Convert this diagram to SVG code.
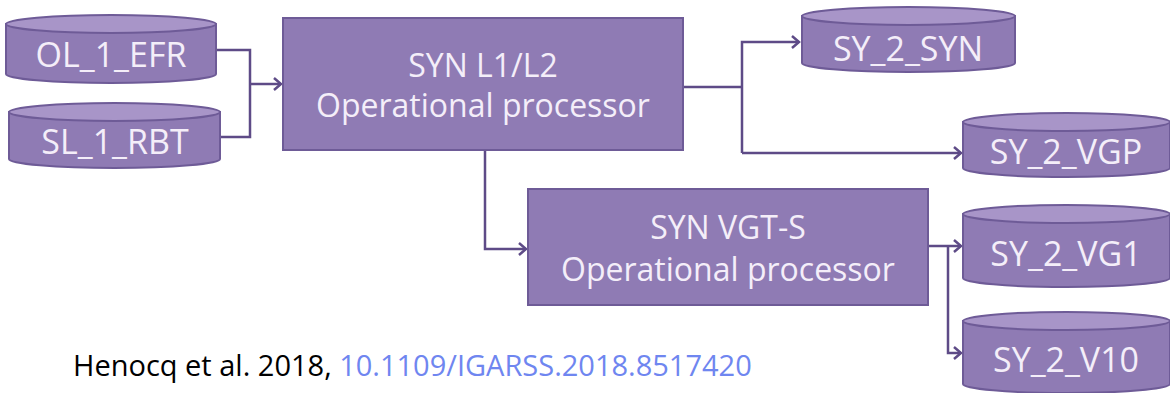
<svg xmlns="http://www.w3.org/2000/svg" width="1170" height="393" viewBox="0 0 1170 393">
<defs>
<style>
.box{fill:#8f7bb4;stroke:#6e5b97;stroke-width:2}
.cyl{fill:#8f7bb4;stroke:#6e5b97;stroke-width:2}
.top{fill:#a895c8;stroke:#6e5b97;stroke-width:2}
.lbl{font-family:"Open Sans","Noto Sans",sans-serif;fill:#f4eef9;text-anchor:middle}
.c{font-size:34px}
.b{font-size:32px}
.con{fill:none;stroke:#5e4b87;stroke-width:2.5}
.cap{font-family:"Open Sans","Noto Sans",sans-serif;font-size:29px}
</style>
<marker id="arr" markerUnits="userSpaceOnUse" markerWidth="12" markerHeight="14" refX="9" refY="7" orient="auto">
<path d="M2,1 L9,7 L2,13" fill="none" stroke="#5e4b87" stroke-width="2.5"/>
</marker>
</defs>
<rect width="1170" height="393" fill="#ffffff"/>
<g id="connectors">
<path class="con" d="M216,50 H250 V137 H220"/>
<path class="con" d="M250,84 H281" marker-end="url(#arr)"/>
<path class="con" d="M683,87 H742" stroke-width="4.5"/>
<path class="con" d="M742,153 V42 H799" marker-end="url(#arr)"/>
<path class="con" d="M742,153 H961" marker-end="url(#arr)"/>
<path class="con" d="M485,150 V249 H526" marker-end="url(#arr)"/>
<path class="con" d="M928,246 H961" marker-end="url(#arr)"/>
<path class="con" d="M948,246 V353 H961" marker-end="url(#arr)"/>
</g>
<g id="ol_1_efr">
<path class="cyl" d="M6,24 V74 A105,9 0 0 0 216,74 V24 Z"/>
<ellipse class="top" cx="111" cy="24" rx="105" ry="9"/>
<text class="lbl c" x="111" y="67">OL_1_EFR</text>
</g>
<g id="sl_1_rbt">
<path class="cyl" d="M9,112 V159 A105.5,9 0 0 0 220,159 V112 Z"/>
<ellipse class="top" cx="114.5" cy="112" rx="105.5" ry="9"/>
<text class="lbl c" x="115" y="154">SL_1_RBT</text>
</g>
<g id="syn_l1l2">
<rect class="box" x="283" y="18" width="400" height="132"/>
<text class="lbl b" x="483" y="77">SYN L1/L2</text>
<text class="lbl b" x="483" y="117">Operational processor</text>
</g>
<g id="syn_vgts">
<rect class="box" x="528" y="189" width="400" height="116"/>
<text class="lbl b" x="728" y="239">SYN VGT-S</text>
<text class="lbl b" x="728" y="281">Operational processor</text>
</g>
<g id="sy_2_syn">
<path class="cyl" d="M802,16 V63 A106.5,9 0 0 0 1015,63 V16 Z"/>
<ellipse class="top" cx="908.5" cy="16" rx="106.5" ry="9"/>
<text class="lbl c" x="908" y="61">SY_2_SYN</text>
</g>
<g id="sy_2_vgp">
<path class="cyl" d="M963,122 V168 A103.5,9 0 0 0 1170,168 V122 Z"/>
<ellipse class="top" cx="1066.5" cy="122" rx="103.5" ry="9"/>
<text class="lbl c" x="1066" y="164">SY_2_VGP</text>
</g>
<g id="sy_2_vg1">
<path class="cyl" d="M963,214 V278 A103.5,9 0 0 0 1170,278 V214 Z"/>
<ellipse class="top" cx="1066.5" cy="214" rx="103.5" ry="9"/>
<text class="lbl c" x="1066" y="266">SY_2_VG1</text>
</g>
<g id="sy_2_v10">
<path class="cyl" d="M963,321 V384 A103.5,9 0 0 0 1170,384 V321 Z"/>
<ellipse class="top" cx="1066.5" cy="321" rx="103.5" ry="9"/>
<text class="lbl c" x="1066" y="372">SY_2_V10</text>
</g>
<text class="cap" x="73" y="376"><tspan fill="#000000">Henocq et al. 2018, </tspan><tspan fill="#6f86f0">10.1109/IGARSS.2018.8517420</tspan></text>
</svg>
